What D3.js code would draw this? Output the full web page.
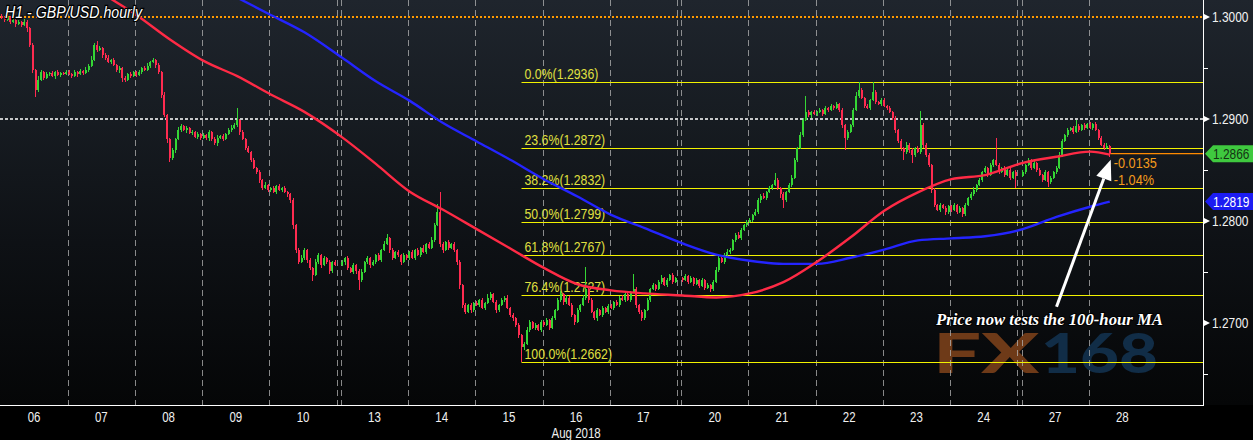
<!DOCTYPE html>
<html><head><meta charset="utf-8">
<script src="https://cdn.jsdelivr.net/npm/d3@7"></script>
<style>html,body{margin:0;padding:0;background:#000;overflow:hidden}svg{display:block}</style>
</head><body>
<script>
// ---------------- DATA ----------------
const dayLabels = ["06","07","08","09","10","13","14","15","16","17","20","21","22","23","24","27","28"];
const weekendsBefore = [0,0,0,0,0,1,1,1,1,1,2,2,2,2,2,3,3];
const monthLabel = "Aug 2018";
const BASE = 1.26, PIP = 0.0001;
const firstOpenPips = 401;
// hourly closes, pips above 1.2600
const closeByDay = [
 [399,397,400,395,397,393,395,392,395,389,373,348,328,338,346,340,344,345,342,346,343,345,344,346],
 [344,342,346,344,347,345,348,352,358,373,368,370,363,360,356,358,353,348,350,340,338,344,342,346],
 [343,346,350,348,352,356,358,353,346,324,304,280,262,270,280,289,293,289,291,286,287,282,285,281],
 [284,281,287,280,276,281,283,280,285,289,291,294,299,287,280,272,268,260,252,248,240,232,235,230],
 [232,228,234,230,232,228,226,221,196,172,160,164,172,162,154,147,160,167,157,164,160,151,160,157],
 [160,164,154,150,157,151,142,150,160,164,157,160,167,162,172,177,183,172,164,170,167,160,167,164],
 [170,164,172,167,174,170,177,174,181,196,209,177,172,179,174,177,172,160,137,118,111,118,113,120],
 [118,123,115,120,125,128,121,113,118,123,125,115,108,105,98,88,76,79,93,101,95,98,93,101],
 [98,103,95,105,113,123,128,121,125,118,108,101,113,118,125,133,123,111,105,113,108,115,111,117],
 [115,121,118,125,123,128,123,130,133,118,111,105,113,123,133,137,133,140,144,137,142,147,140,144],
 [142,146,140,144,138,142,136,142,134,137,133,140,152,164,160,167,170,172,181,186,183,191,196,199],
 [201,206,209,221,225,223,228,232,235,240,232,226,221,228,235,242,260,272,284,299,307,304,307,305],
 [307,309,305,311,309,313,311,315,309,294,281,287,294,309,323,328,321,313,311,319,326,317,315,319],
 [313,311,307,301,289,278,272,268,275,270,265,272,268,294,275,265,255,230,216,211,216,213,209,215],
 [211,216,209,213,207,216,223,226,230,235,240,248,252,245,255,260,255,248,252,245,250,242,248,244],
 [248,255,260,252,257,250,245,240,248,238,242,248,252,265,278,284,289,291,287,293,289,294,291,295],
 [291,295,289,281,275,272,274,266]
];
// upper wick above body top, pips
const highWickByDay = [
 [2,1,3,1,2,1,2,1,3,2,1,2,1,4,2,1,2,1,2,1,2,1,1,2],
 [2,1,2,1,2,1,3,2,4,2,3,2,1,2,3,1,2,1,2,1,2,1,2,1],
 [1,2,1,2,3,1,2,1,2,1,2,1,1,2,1,3,2,1,2,1,2,1,2,1],
 [2,1,2,1,2,3,1,2,1,2,3,2,12,1,2,1,2,1,2,1,2,1,3,1],
 [1,2,1,2,1,2,1,1,2,1,2,3,2,1,2,1,3,2,1,2,1,2,1,2],
 [2,1,2,1,2,1,2,3,1,2,1,2,1,2,1,3,4,1,2,1,2,1,2,1],
 [1,2,1,2,1,2,1,2,3,2,8,19,2,1,2,1,2,1,2,1,2,1,2,1],
 [2,1,2,1,3,2,1,2,1,2,1,2,1,2,1,2,1,2,3,2,1,2,1,2],
 [1,2,1,2,1,2,3,1,2,1,2,1,2,1,2,22,1,2,1,2,1,2,1,2],
 [2,1,2,1,2,1,2,1,15,2,1,2,1,2,1,2,1,2,3,1,2,1,2,1],
 [1,2,1,2,1,2,1,2,1,2,1,2,3,2,1,2,3,2,1,2,3,2,1,2],
 [2,1,3,2,1,2,1,2,1,7,2,1,2,1,2,3,2,1,3,2,16,2,1,2],
 [1,2,1,2,1,2,1,2,1,2,1,2,1,2,3,8,2,1,2,1,10,2,1,2],
 [2,1,2,1,2,1,2,1,2,1,2,1,2,14,2,1,2,1,2,1,2,1,2,1],
 [1,2,1,2,1,2,1,2,3,1,2,1,2,1,2,1,21,2,1,2,1,2,1,2],
 [2,1,2,1,2,1,2,1,2,1,2,1,2,3,2,1,2,1,2,6,2,1,2,1],
 [2,1,2,1,2,1,2,1]
];
// lower wick below body bottom, pips
const lowWickByDay = [
 [1,2,1,2,1,3,1,2,1,4,2,3,6,2,1,2,1,2,1,3,1,2,1,1],
 [1,2,1,3,1,2,1,2,1,1,2,1,3,2,1,2,1,2,3,4,2,1,2,1],
 [2,1,2,1,1,2,1,3,2,3,2,4,4,2,3,1,2,1,3,1,2,1,2,2],
 [1,2,3,2,1,2,1,2,1,1,2,1,2,3,1,2,1,2,1,2,3,2,1,2],
 [2,1,2,1,2,1,2,3,4,3,2,1,2,3,2,6,1,2,3,1,2,3,2,1],
 [1,3,2,1,2,3,10,2,1,2,3,1,2,1,2,1,1,3,2,1,2,3,1,2],
 [2,1,2,1,2,1,2,1,1,2,1,2,3,1,2,1,2,3,4,3,2,1,3,2],
 [1,2,1,2,1,2,1,3,2,1,2,1,2,3,2,3,14,2,1,2,1,2,1,2],
 [2,1,2,1,2,1,2,3,2,1,2,3,1,2,1,2,3,1,2,3,1,2,1,2],
 [1,2,1,2,1,2,1,2,1,3,2,3,2,1,2,1,2,1,2,1,2,1,2,1],
 [2,1,2,1,2,1,2,1,2,1,3,2,1,2,1,2,1,2,1,2,1,2,1,2],
 [1,2,1,2,3,1,2,1,2,1,2,3,8,2,1,2,1,2,1,2,1,2,3,1],
 [2,1,2,1,2,1,2,1,2,3,11,2,1,2,1,2,1,2,1,2,1,2,1,2],
 [1,2,1,2,3,2,3,8,2,3,8,2,1,2,3,2,2,3,2,1,2,1,3,2],
 [2,1,2,1,3,2,1,2,1,2,1,2,1,2,1,2,1,2,1,2,1,2,1,12],
 [1,2,1,2,1,2,1,2,1,5,2,1,2,1,2,1,2,1,2,1,2,1,2,1],
 [1,2,1,2,1,2,1,3]
];
// moving averages sampled every 12 bars (bar index) in pips above 1.2600
const maBars = [0,12,24,36,48,60,72,84,96,108,120,132,144,156,168,180,192,204,216,228,240,252,264,276,288,300,312,324,336,348,360,372,384,391];
const ma100 = [490,468,446,423,402,378,357,342,324,307,282,256,229,211,192,173,154,138,132,129,127,125,129,140,160,184,210,228,241,245,257,263,268,265];
const ma200 = [537,521,504,487,471,454,436,419,402,385,360,337,318,296,278,260,241,224,206,193,178,167,161,158,158,164,172,181,183,185,192,204,214,219];
// fibonacci retracement
const fibLevels = ["0.0%","23.6%","38.2%","50.0%","61.8%","76.4%","100.0%"];
const fibPrices = [1.2936,1.2872,1.2832,1.2799,1.2767,1.2727,1.2662];
// axis
const majorTicks = [1.3000,1.2900,1.2800,1.2700];
const minorTicks = [1.2950,1.2850,1.2750,1.2650];
const orangeRef = 1.3000, whiteRef = 1.2900;
const lastPrice = 1.2866, ma200Last = 1.2819;
const changeText = ["-0.0135","-1.04%"];
const titleText = "H1 - GBP/USD hourly";
const noteText = "Price now tests the 100-hour MA";

// ---------------- LAYOUT ----------------
const W = 1253, H = 440, plotR = 1203, plotB = 405;
const SANS = "'Liberation Sans', Arial, sans-serif";
const x = d3.scaleLinear().domain([0, 364.5]).range([0.5, 1021.5]);
const y = d3.scaleLinear().domain([1.27, 1.30]).range([323, 17]);
const slotOfBar = b => { const k = Math.floor(b / 24); return b + 1.5 * weekendsBefore[Math.min(k, weekendsBefore.length-1)]; };
// emulate a narrow face by compressing the regular one horizontally
function narrow(sel, f = 0.82) {
  sel.each(function () {
    const L = this.getComputedTextLength();
    d3.select(this).attr("textLength", L * f).attr("lengthAdjust", "spacingAndGlyphs");
  });
  return sel;
}

const svg = d3.select("body").append("svg").attr("width", W).attr("height", H);
const defs = svg.append("defs");
const g1 = defs.append("linearGradient").attr("id","bg").attr("x1",0).attr("y1",0).attr("x2",0).attr("y2",1);
[[0,"#1f252d"],[0.28,"#171c22"],[0.6,"#0e1115"],[1,"#050607"]].forEach(([o,c]) => g1.append("stop").attr("offset",o).attr("stop-color",c));
defs.append("clipPath").attr("id","clip").append("rect").attr("width", plotR).attr("height", plotB);

svg.append("rect").attr("width", W).attr("height", H).attr("fill", "#000");
svg.append("rect").attr("width", W).attr("height", plotB).attr("fill", "url(#bg)");

const plot = svg.append("g").attr("clip-path", "url(#clip)");

// watermark
const wm = plot.append("g").attr("font-family","Lato, 'Open Sans', sans-serif").attr("font-weight",900).attr("font-size",56);
wm.append("text").attr("x",933).attr("y",373).attr("fill","#6e3a18").attr("textLength",106).attr("lengthAdjust","spacingAndGlyphs").text("FX");
wm.append("text").attr("x",1041).attr("y",373).attr("fill","#112d47").attr("textLength",117).attr("lengthAdjust","spacingAndGlyphs").text("168");

// day separator lines
const sepSlots = [];
dayLabels.forEach((d, k) => {
  if (k === 0) return;
  const w = weekendsBefore[k], wp = weekendsBefore[k-1];
  sepSlots.push(24*k + 1.5*w);
  if (w > wp) sepSlots.push(24*k + 1.5*wp);
});
plot.append("g").selectAll("line").data(sepSlots).join("line")
  .attr("x1", s => Math.round(x(s)) + 0.5).attr("x2", s => Math.round(x(s)) + 0.5)
  .attr("y1", 0).attr("y2", plotB)
  .attr("stroke", "#b4b4b4").attr("stroke-width", 1).attr("stroke-dasharray", "6,4").attr("opacity", 0.75);

// reference lines
plot.append("line").attr("x1",0).attr("x2",plotR).attr("y1",y(orangeRef)).attr("y2",y(orangeRef))
  .attr("stroke","#ff9a00").attr("stroke-width",2).attr("stroke-dasharray","2,2");
plot.append("line").attr("x1",0).attr("x2",plotR).attr("y1",y(whiteRef)).attr("y2",y(whiteRef))
  .attr("stroke","#ffffff").attr("stroke-width",1.5).attr("stroke-dasharray","3,2");

// bars
const bars = [];
let prev = BASE + firstOpenPips * PIP;
closeByDay.forEach((arr, k) => arr.forEach((c, h) => {
  const close = BASE + c * PIP, open = prev;
  const hi = Math.max(open, close) + highWickByDay[k][h] * PIP;
  const lo = Math.min(open, close) - lowWickByDay[k][h] * PIP;
  bars.push({ slot: 24*k + h + 1.5*weekendsBefore[k], open, close, hi, lo });
  prev = close;
}));
const lowBar = bars.reduce((a, b) => b.lo < a.lo ? b : a);
const lastBar = bars[bars.length - 1];

// fib lines
const fibX = x(lowBar.slot + 0.5);
const fib = plot.append("g");
fibPrices.forEach((p, i) => {
  fib.append("line").attr("x1", fibX).attr("x2", plotR).attr("y1", Math.round(y(p)) + 0.5).attr("y2", Math.round(y(p)) + 0.5)
    .attr("stroke", "#f2f200").attr("stroke-width", 1.2);
  narrow(fib.append("text").attr("x", fibX + 3).attr("y", y(p) - 3).attr("fill", "#e0e040")
    .attr("font-family", SANS).attr("font-size", 15).text(`${fibLevels[i]}(${p.toFixed(4)})`));
});

// last price line
plot.append("line").attr("x1", x(lastBar.slot + 0.5)).attr("x2", plotR).attr("y1", y(lastPrice)).attr("y2", y(lastPrice))
  .attr("stroke", "#ff8a00").attr("stroke-width", 1.2);

// candles
const up = "#35d635", dn = "#ff2b50";
const cg = plot.append("g").attr("shape-rendering", "crispEdges");
cg.selectAll("line").data(bars).join("line")
  .attr("x1", d => x(d.slot + 0.5)).attr("x2", d => x(d.slot + 0.5))
  .attr("y1", d => y(d.hi)).attr("y2", d => y(d.lo))
  .attr("stroke", d => d.close >= d.open ? up : dn).attr("stroke-width", 1);
cg.selectAll("rect").data(bars).join("rect")
  .attr("x", d => x(d.slot + 0.5) - 1).attr("width", 2)
  .attr("y", d => y(Math.max(d.open, d.close)))
  .attr("height", d => Math.max(1, Math.abs(y(d.open) - y(d.close))))
  .attr("fill", d => d.close >= d.open ? up : dn);

// moving averages
const maLine = d3.line().x(d => x(slotOfBar(d.b) + 0.5)).y(d => y(BASE + d.v * PIP)).curve(d3.curveMonotoneX);
plot.append("path").attr("d", maLine(maBars.map((b, i) => ({ b, v: ma200[i] }))))
  .attr("fill", "none").attr("stroke", "#2424ff").attr("stroke-width", 2.4);
plot.append("path").attr("d", maLine(maBars.map((b, i) => ({ b, v: ma100[i] }))))
  .attr("fill", "none").attr("stroke", "#ff2a45").attr("stroke-width", 2.4);

// change texts
const cx = x(lastBar.slot + 0.5) + 4;
narrow(plot.append("text").attr("x", cx).attr("y", y(lastPrice) + 14).attr("fill", "#f39a1c")
  .attr("font-family", SANS).attr("font-size", 15.5).text(changeText[0]));
narrow(plot.append("text").attr("x", cx).attr("y", y(lastPrice) + 31).attr("fill", "#f39a1c")
  .attr("font-family", SANS).attr("font-size", 15.5).text(changeText[1]));

// annotation arrow
const tip = [x(lastBar.slot + 0.5) + 1, y(1.2860)];
const tail = [x(377), y(1.2716)];
const ang = Math.atan2(tip[1] - tail[1], tip[0] - tail[0]);
const hl = 20, hw = 8;
const base = [tip[0] - hl * Math.cos(ang), tip[1] - hl * Math.sin(ang)];
plot.append("line").attr("x1", tail[0]).attr("y1", tail[1]).attr("x2", base[0]).attr("y2", base[1])
  .attr("stroke", "#fff").attr("stroke-width", 3);
plot.append("polygon").attr("points", [
  tip, [base[0] + hw * Math.sin(ang), base[1] - hw * Math.cos(ang)], [base[0] - hw * Math.sin(ang), base[1] + hw * Math.cos(ang)]
].map(p => p.join(",")).join(" ")).attr("fill", "#fff");
plot.append("text").attr("x", 936).attr("y", 325).attr("fill", "#fff")
  .attr("font-family", "'Liberation Serif', serif").attr("font-style", "italic").attr("font-weight", "bold")
  .attr("font-size", 17).attr("textLength", 227).attr("lengthAdjust", "spacingAndGlyphs")
  .attr("stroke", "#000").attr("stroke-width", 2).attr("paint-order", "stroke").text(noteText);

// title
svg.append("text").attr("x", 5).attr("y", 18).attr("fill", "#fff")
  .attr("font-family", SANS).attr("font-style", "italic").attr("font-size", 17)
  .attr("textLength", 137).attr("lengthAdjust", "spacingAndGlyphs")
  .attr("stroke", "#000").attr("stroke-width", 2.5).attr("paint-order", "stroke").text(titleText);

// axes frame
svg.append("line").attr("x1", plotR + 0.5).attr("x2", plotR + 0.5).attr("y1", 0).attr("y2", plotB + 1).attr("stroke", "#fff");
svg.append("line").attr("x1", 0).attr("x2", plotR + 1).attr("y1", plotB + 0.5).attr("y2", plotB + 0.5).attr("stroke", "#fff");

// right axis
const ra = svg.append("g");
majorTicks.forEach(v => {
  const yy = y(v);
  ra.append("polygon").attr("points", `${plotR+1},${yy-3} ${plotR+7},${yy} ${plotR+1},${yy+3}`).attr("fill", "#fff");
  narrow(ra.append("text").attr("x", plotR + 9).attr("y", yy + 5).attr("fill", "#f2f2f2")
    .attr("font-family", SANS).attr("font-size", 14.5).text(d3.format(".4f")(v)));
});
minorTicks.forEach(v => {
  ra.append("line").attr("x1", plotR).attr("x2", plotR + 5).attr("y1", Math.round(y(v)) + 0.5).attr("y2", Math.round(y(v)) + 0.5).attr("stroke", "#fff");
});

// price tags
function tag(v, fill, txt) {
  const yy = y(v), h = 8.5;
  ra.append("path").attr("d", `M${plotR+2},${yy} L${plotR+10},${yy-h} L${W},${yy-h} L${W},${yy+h} L${plotR+10},${yy+h} Z`).attr("fill", fill);
  narrow(ra.append("text").attr("x", plotR + 10).attr("y", yy + 5).attr("fill", txt)
    .attr("font-family", SANS).attr("font-size", 14.5).text(d3.format(".4f")(v)));
}
tag(lastPrice, "#3fc93f", "#143214");
tag(ma200Last, "#1c1cf2", "#ffffff");

// bottom axis labels
const ba = svg.append("g").attr("font-family", SANS).attr("font-size", 14).attr("fill", "#f0f0f0").attr("text-anchor", "middle");
dayLabels.forEach((d, k) => {
  narrow(ba.append("text").attr("x", x(24*k + 1.5*weekendsBefore[k] + 12)).attr("y", 422).text(d));
});
narrow(ba.append("text").attr("x", x(24*8 + 1.5*weekendsBefore[8] + 12)).attr("y", 438).text(monthLabel));
</script>
</body></html>
